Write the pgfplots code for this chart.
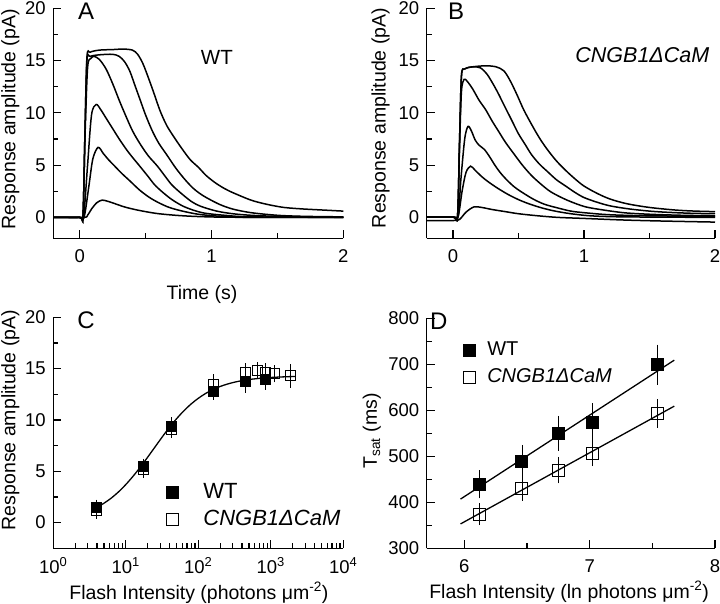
\documentclass[border=0pt]{standalone}
\usepackage{fontspec}
\setmainfont{Liberation Sans}
\usepackage{pgfplots}
\pgfplotsset{compat=1.18}
\newcommand\tickfont{\fontsize{18.5}{20}\selectfont}
\newcommand\labfont{\fontsize{19.5}{22}\selectfont}
\newcommand\letfont{\fontsize{24}{26}\selectfont}
\pgfplotsset{
  panel/.style={
    scale only axis,
    axis x line*=bottom,
    axis y line*=left,
    tick align=inside,
    major tick length=8pt,
    minor tick length=5pt,
    tick style={black, line width=1.2pt},
    axis line style={black, line width=1.5pt},
    tick label style={font=\tickfont},
    xticklabel style={yshift=-8pt},
    yticklabel style={xshift=-4pt},
    /pgf/number format/assume math mode=true,
    clip=false,
  },
  trace/.style={black, line width=1.5pt, smooth, tension=0.5, no markers},
  ebar/.style={error bars/y dir=both, error bars/y explicit,
    error bars/error bar style={black, line width=0.9pt},
    error bars/error mark options={black, line width=0.9pt, mark size=3.5pt}},
}
\begin{document}
\begin{tikzpicture}
\path[use as bounding box] (0,0) rectangle (720pt,604pt);

% ---------------- Panel A ----------------
\begin{axis}[panel, at={(53.3pt,365.7pt)}, anchor=south west,
  width=290pt, height=230pt,
  xmin=-0.2, xmax=2, ymin=-2, ymax=20,
  xtick={0,1,2}, minor xtick={0.5,1.5},
  ytick={0,5,10,15,20}, minor ytick={2.5,7.5,12.5,17.5},
  xlabel={Time (s)},
  xlabel style={font=\labfont, at={(axis description cs:0.513,-0.242)}, anchor=center},
  ylabel={Response amplitude (pA)},
  ylabel style={font=\labfont, at={(axis description cs:-0.148,0.518)}, anchor=center},
]
\addplot[trace] coordinates {(-0.2,0) (0.03,0) (0.06,0.2) (0.09,0.8) (0.13,1.4) (0.17,1.65) (0.21,1.55) (0.27,1.3) (0.34,1.0) (0.42,0.75) (0.5,0.55) (0.6,0.35) (0.75,0.18) (0.9,0.08) (1.1,0.02) (1.5,0) (2.0,0)};
\addplot[trace] coordinates {(-0.2,0) (0.0,0) (0.035,0.1) (0.07,3) (0.1,5.6) (0.14,6.7) (0.18,6.1) (0.22,5.5) (0.266,4.9) (0.32,4.2) (0.38,3.5) (0.456,2.6) (0.53,1.9) (0.6,1.4) (0.68,0.95) (0.78,0.6) (0.9,0.3) (1.05,0.12) (1.3,0.0) (2.0,0)};
\addplot[trace] coordinates {(-0.2,0) (0.0,0) (0.03,0.1) (0.06,5) (0.09,9.8) (0.125,10.8) (0.16,10.3) (0.2,9.5) (0.25,8.5) (0.3,7.5) (0.36,6.4) (0.41,5.6) (0.456,4.9) (0.52,3.9) (0.57,3.1) (0.63,2.4) (0.7,1.7) (0.78,1.1) (0.86,0.7) (0.95,0.4) (1.1,0.2) (1.3,0.05) (2.0,0)};
\addplot[trace] coordinates {(-0.2,0) (0.0,0) (0.025,0.1) (0.04,7.5) (0.06,14.3) (0.085,15.2) (0.11,15.4) (0.15,15.1) (0.2,14.2) (0.25,12.8) (0.3,11.2) (0.34,10.0) (0.4,8.3) (0.46,7.0) (0.52,5.9) (0.59,4.9) (0.65,3.9) (0.7,3.1) (0.77,2.3) (0.85,1.5) (0.92,1.05) (1.04,0.6) (1.16,0.35) (1.3,0.2) (1.5,0.1) (2.0,0.0)};
\addplot[trace] coordinates {(-0.2,0) (0.0,0) (0.025,0.1) (0.04,8) (0.055,15.0) (0.08,15.4) (0.15,15.55) (0.25,15.6) (0.3,15.4) (0.34,14.9) (0.38,14.0) (0.42,12.6) (0.46,11.2) (0.5,9.8) (0.55,8.3) (0.6,7.1) (0.66,6.0) (0.73,4.7) (0.8,3.6) (0.86,2.8) (0.91,2.3) (0.96,1.9) (1.06,1.25) (1.16,0.8) (1.3,0.45) (1.5,0.2) (1.7,0.1) (2.0,0.05)};
\addplot[trace] coordinates {(-0.2,0) (0.0,0) (0.025,0.1) (0.04,8) (0.055,15.3) (0.08,15.8) (0.15,16.0) (0.25,16.05) (0.33,16.1) (0.4,16.0) (0.44,15.6) (0.48,14.7) (0.52,13.4) (0.56,12.0) (0.61,10.2) (0.66,8.8) (0.72,7.6) (0.78,6.5) (0.84,5.5) (0.9,4.8) (0.96,4.0) (1.03,3.3) (1.1,2.75) (1.165,2.35) (1.3,1.65) (1.42,1.25) (1.55,0.95) (1.7,0.8) (1.85,0.7) (2.0,0.6)};
\node[font=\fontsize{20.5}{22}\selectfont, inner sep=0pt] at (axis description cs:0.564,0.788) {WT};
\node[anchor=north west, inner sep=0pt, font=\letfont] at (axis description cs:0.085,1.023) {A};
\end{axis}

% ---------------- Panel B ----------------
\begin{axis}[panel, at={(426.7pt,365.7pt)}, anchor=south west,
  width=288.3pt, height=230pt,
  xmin=-0.2, xmax=2, ymin=-2, ymax=20,
  xtick={0,1,2}, minor xtick={0.5,1.5},
  ytick={0,5,10,15,20}, minor ytick={2.5,7.5,12.5,17.5},
  ylabel={Response amplitude (pA)},
  ylabel style={font=\labfont, at={(axis description cs:-0.160,0.523)}, anchor=center},
]
\addplot[trace] coordinates {(-0.2,-0.3) (0.0,-0.3) (0.05,-0.2) (0.1,0.5) (0.16,1.0) (0.22,0.95) (0.3,0.75) (0.4,0.55) (0.5,0.35) (0.65,0.15) (0.8,0.0) (1.0,-0.1) (1.3,-0.25) (1.6,-0.35) (2.0,-0.45)};
\addplot[trace] coordinates {(-0.2,0.05) (0.0,0.05) (0.04,0.1) (0.07,2.5) (0.1,4.3) (0.135,4.9) (0.17,4.5) (0.22,3.9) (0.27,3.4) (0.34,2.8) (0.42,2.2) (0.5,1.7) (0.58,1.3) (0.68,0.9) (0.78,0.6) (0.9,0.35) (1.05,0.15) (1.3,0.05) (2.0,0.0)};
\addplot[trace] coordinates {(-0.2,0.05) (0.0,0.05) (0.04,0.1) (0.06,3.5) (0.09,7.5) (0.115,8.7) (0.14,8.3) (0.17,7.4) (0.2,6.9) (0.24,6.5) (0.28,5.8) (0.32,5.0) (0.36,4.3) (0.41,3.6) (0.47,2.9) (0.54,2.3) (0.62,1.7) (0.7,1.25) (0.8,0.9) (0.9,0.6) (1.0,0.45) (1.2,0.25) (1.5,0.15) (2.0,0.1)};
\addplot[trace] coordinates {(-0.2,0.05) (0.0,0.05) (0.035,0.1) (0.05,6.5) (0.065,12.0) (0.085,13.2) (0.11,13.0) (0.15,12.3) (0.2,11.2) (0.25,10.3) (0.3,9.2) (0.35,8.2) (0.4,7.2) (0.47,6.0) (0.53,5.0) (0.6,4.0) (0.67,3.2) (0.74,2.5) (0.82,1.95) (0.9,1.5) (1.0,1.05) (1.1,0.8) (1.3,0.45) (1.5,0.3) (1.75,0.2) (2.0,0.15)};
\addplot[trace] coordinates {(-0.2,0.05) (0.0,0.05) (0.035,0.1) (0.05,7) (0.065,13.5) (0.09,14.2) (0.15,14.4) (0.21,14.3) (0.26,13.7) (0.3,12.9) (0.34,12.0) (0.38,11.0) (0.42,10.0) (0.46,9.0) (0.5,8.0) (0.55,7.0) (0.6,6.0) (0.66,5.1) (0.72,4.4) (0.79,3.6) (0.86,3.0) (0.93,2.4) (1.0,1.9) (1.1,1.45) (1.2,1.1) (1.35,0.8) (1.55,0.55) (1.8,0.4) (2.0,0.35)};
\addplot[trace] coordinates {(-0.2,0.05) (0.0,0.05) (0.035,0.1) (0.05,7) (0.065,13.5) (0.09,14.2) (0.15,14.4) (0.25,14.5) (0.33,14.4) (0.39,14.0) (0.44,13.0) (0.49,11.7) (0.54,10.3) (0.6,8.9) (0.66,7.6) (0.72,6.5) (0.79,5.4) (0.86,4.5) (0.93,3.7) (1.0,3.0) (1.1,2.3) (1.2,1.75) (1.33,1.3) (1.5,0.95) (1.7,0.7) (1.85,0.6) (2.0,0.55)};
\node[font=\fontsize{21.5}{23}\selectfont\itshape, inner sep=0pt] at (axis description cs:0.748,0.797) {CNGB1ΔCaM};
\node[anchor=north west, inner sep=0pt, font=\letfont] at (axis description cs:0.074,1.023) {B};
\end{axis}

% ---------------- Panel C ----------------
\begin{axis}[panel, at={(53.3pt,55.7pt)}, anchor=south west,
  width=290pt, height=231pt,
  xmode=log, xmin=1, xmax=10000, ymin=-2.5, ymax=20,
  xtick={1,10,100,1000,10000},
  xticklabels={10\textsuperscript{0},10\textsuperscript{1},10\textsuperscript{2},10\textsuperscript{3},10\textsuperscript{4}},
  xticklabel style={yshift=2pt},
  ytick={0,5,10,15,20}, minor ytick={2.5,7.5,12.5,17.5},
  xlabel={Flash Intensity (photons μm\textsuperscript{-2})},
  xlabel style={font=\labfont, at={(axis description cs:0.502,-0.193)}, anchor=center},
  ylabel={Response amplitude (pA)},
  ylabel style={font=\labfont, at={(axis description cs:-0.148,0.555)}, anchor=center},
  legend style={at={(axis description cs:0.391,0.293)}, anchor=north west, draw=none, fill=none,
    inner sep=0pt, font=\fontsize{22}{24}\selectfont, row sep=3pt,
    nodes={text height=16pt, text depth=4pt, inner sep=2pt},
    /tikz/every odd column/.style={column sep=22.5pt}},
  legend cell align=left,
  legend image code/.code={\draw[#1] plot coordinates {(0pt,0pt)};},
]
\addplot[black, line width=1.3pt, smooth, no markers, forget plot] coordinates {
(3.4,1.25) (4,1.49) (5,1.89) (6.3,2.39) (8,3.02) (10,3.71) (12.6,4.52) (16,5.44) (20,6.37) (25,7.32) (32,8.37) (40,9.28) (50,10.11) (63,10.88) (80,11.57) (100,12.11) (126,12.58) (160,12.97) (200,13.26) (250,13.49) (320,13.69) (400,13.83) (500,13.94) (630,14.02) (800,14.09) (1000,14.14) (1300,14.18) (1800,14.22) (2200,14.23)};
\addplot[only marks, mark=square*, mark size=5pt, mark options={black, fill=black, line width=1pt},
  ebar, legend image post style={mark size=6pt}] coordinates {
(3.9,1.5) +- (0,0.4) (17.5,5.5) +- (0,0.4) (43,9.4) +- (0,0.5) (160,12.8) +- (0,0.5) (450,13.7) +- (0,0.7) (850,13.9) +- (0,0.6)};
\addlegendentry{WT}
\addplot[only marks, mark=square, mark size=5pt, mark options={black, line width=1pt},
  ebar, legend image post style={mark size=6pt}] coordinates {
(3.9,1.2) +- (0,0.5) (17.5,5.2) +- (0,0.5) (43,9.1) +- (0,0.5) (160,13.5) +- (0,0.6) (450,14.6) +- (0,0.6) (650,14.8) +- (0,0.5) (850,14.6) +- (0,0.6) (1130,14.5) +- (0,0.5) (1850,14.3) +- (0,0.8)};
\addlegendentry{\textit{CNGB1ΔCaM}}
\node[anchor=north west, inner sep=0pt, font=\letfont] at (axis description cs:0.082,1.023) {C};
\end{axis}

% ---------------- Panel D ----------------
\begin{axis}[panel, at={(426.7pt,55.7pt)}, anchor=south west,
  width=288.3pt, height=230pt,
  xmin=5.7, xmax=8, ymin=300, ymax=800,
  xtick={6,7,8}, minor xtick={6.5,7.5},
  ytick={300,400,500,600,700,800}, minor ytick={350,450,550,650,750},
  xlabel={Flash Intensity (ln photons μm\textsuperscript{-2})},
  xlabel style={font=\labfont, at={(axis description cs:0.494,-0.19)}, anchor=center},
  ylabel={T\textsubscript{sat} (ms)},
  ylabel style={font=\labfont, at={(axis description cs:-0.19,0.51)}, anchor=center},
  legend style={at={(axis description cs:0.128,0.912)}, anchor=north west, draw=none, fill=none,
    inner sep=0pt, font=\fontsize{20}{22}\selectfont, row sep=4pt,
    nodes={text height=15pt, text depth=4pt, inner sep=2pt},
    /tikz/every odd column/.style={column sep=9.5pt}},
  legend cell align=left,
  legend image code/.code={\draw[#1] plot coordinates {(0pt,0pt)};},
]
\addplot[black, line width=1.3pt, no markers, forget plot] coordinates {(5.97,407) (7.675,709)};
\addplot[black, line width=1.3pt, no markers, forget plot] coordinates {(5.97,353) (7.675,609)};
\addplot[only marks, mark=square*, mark size=6pt, mark options={black, fill=black, line width=1pt}, ebar] coordinates {
(6.12,439) +- (0,23) (6.46,488) +- (0,29) (6.75,550) +- (0,30) (7.02,574) +- (0,34) (7.54,699) +- (0,36)};
\addlegendentry{WT}
\addplot[only marks, mark=square, mark size=6pt, mark options={black, line width=1pt}, ebar] coordinates {
(6.12,374) +- (0,16) (6.46,431) +- (0,20) (6.75,470) +- (0,21) (7.02,507) +- (0,21) (7.54,593) +- (0,23)};
\addlegendentry{\textit{CNGB1ΔCaM}}
\node[anchor=north west, inner sep=0pt, font=\letfont] at (axis description cs:0.011,1.023) {D};
\end{axis}
\end{tikzpicture}
\end{document}
